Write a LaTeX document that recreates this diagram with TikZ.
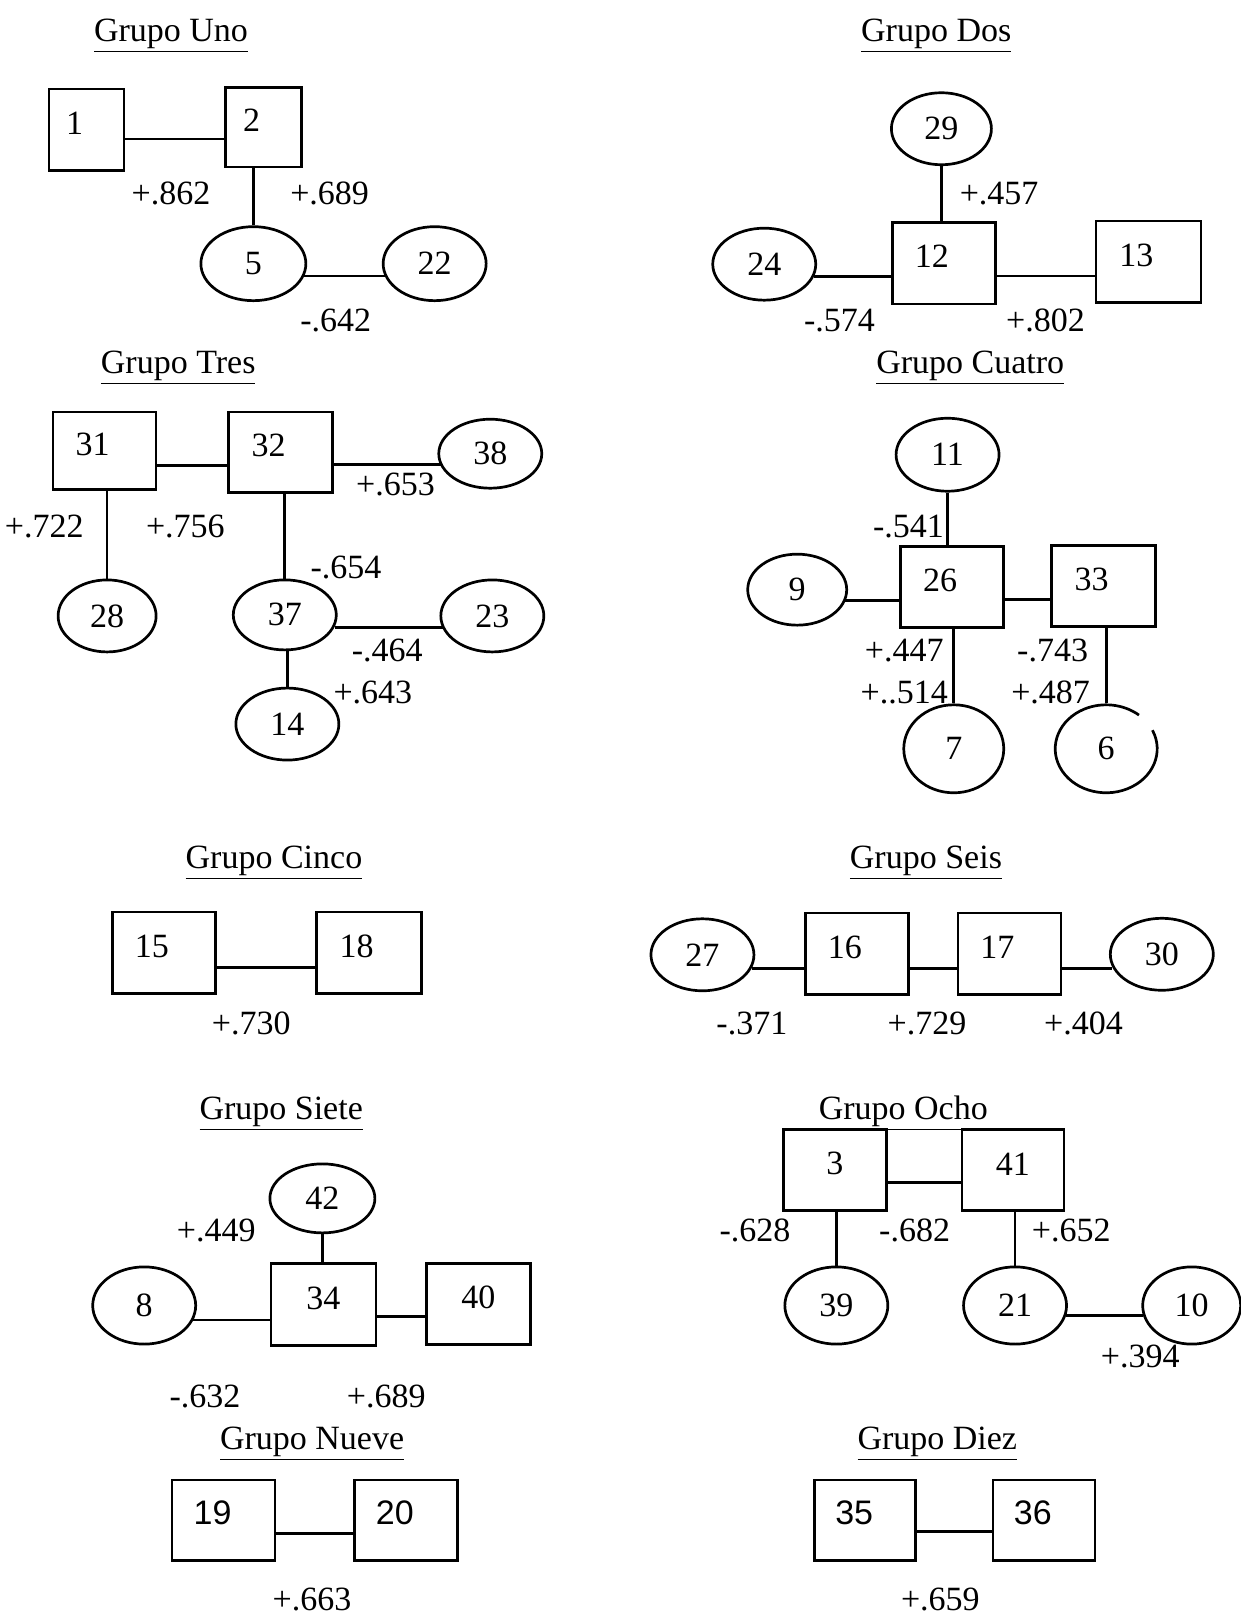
\documentclass[tikz,border=0pt]{standalone}
\usepackage{fontspec}
\setmainfont{Liberation Serif}
\newfontfamily\arialfont{Liberation Sans}
\usetikzlibrary{shapes.geometric, calc}

\begin{document}
\begin{tikzpicture}[x=0.515pt, y=-0.515pt, line width=1.35pt,
    font=\fontsize{17}{20}\selectfont,
    box/.style={draw, minimum width=51.5pt, minimum height=40.7pt,
      label={[xshift=-6pt, yshift=3.3pt]center:#1}},
    cbox/.style={draw, minimum width=51.5pt, minimum height=40.7pt,
      label={[yshift=3.1pt]center:#1}},
    sbox/.style={draw, minimum width=51.5pt, minimum height=40.2pt,
      label={[xshift=-5.5pt, yshift=3.8pt, font=\arialfont\fontsize{17}{20}\selectfont]center:#1}},
    oval/.style={draw, ellipse, inner sep=0pt, minimum width=51.5pt, minimum height=36pt},
    wt/.style={inner sep=0pt},
    title/.style={inner sep=0pt}]
  \useasboundingbox (0,0) rectangle (1204,1568);

  % grupo uno
  \node[title] (t1) at (166,35) {\underline{Grupo Uno}};
  \node[box=1, minimum width=37.6pt] (b1) at (84,126) {};
  \node[box=2, minimum width=38pt, minimum height=39.7pt] (b2) at (256,123.5) {};
  \node[oval, minimum width=52.5pt, minimum height=37pt] (e5) at (246,256) {5};
  \node[oval, minimum height=37pt] (e22) at (422,256) {22};
  \draw ($(b1.east)+(0,9)$) coordinate (p) -- (p -| b2.west);
  \draw (e5.north) -- (e5.north |- b2.south);
  \draw ($(e5.east)+(-3,12)$) coordinate (p) -- ($(p -| e22.west)+(3,0)$);
  \node[wt] (w1) at (166,188) {+.862};
  \node[wt] (w2) at (320,188) {+.689};
  \node[wt] (w3) at (326,311) {-.642};

  % grupo dos
  \node[title] (t2) at (909,35) {\underline{Grupo Dos}};
  \node[oval, minimum width=50pt] (e29) at (914,125) {29};
  \node[box=12] (b12) at (916.5,255.5) {};
  \node[oval] (e24) at (742,256.5) {24};
  \node[box=13, minimum width=52.5pt] (b13) at (1115,254) {};
  \draw (e29.south) -- (e29.south |- b12.north);
  \draw ($(e24.east)+(-3,12)$) coordinate (p) -- (p -| b12.west);
  \draw ($(b12.east)+(0,12.5)$) coordinate (p) -- (p -| b13.west);
  \node[wt] (w4) at (970,188) {+.457};
  \node[wt] (w5) at (815,311) {-.574};
  \node[wt] (w6) at (1015,311) {+.802};

  % grupo tres
  \node[title] (t3) at (173,357) {\underline{Grupo Tres}};
  \node[box=31, minimum height=38.6pt] (b31) at (101.5,437.5) {};
  \node[box=32, minimum width=52pt, minimum height=40.2pt] (b32) at (272.5,439) {};
  \node[oval, minimum height=34.5pt] (e38) at (476,440.5) {38};
  \node[oval, minimum width=49pt] (e28) at (104,598) {28};
  \node[oval, minimum height=35pt] (e37) at (276.5,597) {37};
  \node[oval] (e23) at (478,598) {23};
  \node[oval] (e14) at (279,703) {14};
  \draw ($(b31.east)+(0,14.5)$) coordinate (p) -- (p -| b32.west);
  \draw ($(b32.east)+(0,12)$) coordinate (p) -- ($(p -| e38.west)+(3,0)$);
  \draw (e28.north) -- (e28.north |- b31.south);
  \draw (e37.north) -- (e37.north |- b32.south);
  \draw ($(e37.east)+(-3,12)$) coordinate (p) -- ($(p -| e23.west)+(3,0)$);
  \draw (e14.north) -- (e14.north |- e37.south);
  \node[wt] (w7) at (43,511) {+.722};
  \node[wt] (w8) at (180,511) {+.756};
  \node[wt] (w9) at (384,470) {+.653};
  \node[wt] (w10) at (336,551) {-.654};
  \node[wt] (w11) at (376,632) {-.464};
  \node[wt] (w12) at (362,672) {+.643};

  % grupo cuatro
  \node[title] (t4) at (942,357) {\underline{Grupo Cuatro}};
  \node[oval, minimum height=36.5pt] (e11) at (920,441.5) {11};
  \node[box=26] (b26) at (924.5,570) {};
  \node[oval, minimum width=49.5pt, minimum height=35.5pt] (e9) at (774,572.5) {9};
  \node[box=33, minimum width=52pt] (b33) at (1071.5,569) {};
  \node[oval, minimum width=50pt, minimum height=44pt] (e7) at (926,727) {7};
  \node[ellipse, inner sep=0pt, minimum width=51pt, minimum height=44pt] (e6) at (1074,727) {6};
  \draw ([shift={(-25:49.5 and 42.7)}]e6.center) arc[start angle=-25, end angle=310, x radius=49.5, y radius=42.7];
  \draw (e11.south) -- (e11.south |- b26.north);
  \draw ($(e9.east)+(-2.5,10.5)$) coordinate (p) -- (p -| b26.west);
  \draw ($(b26.east)+(0,12)$) coordinate (p) -- (p -| b33.west);
  \draw (e7.north) -- (e7.north |- b26.south);
  \draw (e6.north) -- (e6.north |- b33.south);
  \node[wt] (w13) at (882,511) {-.541};
  \node[wt] (w14) at (878,632) {+.447};
  \node[wt] (w15) at (878,672) {+..514};
  \node[wt] (w16) at (1022,632) {-.743};
  \node[wt] (w17) at (1020,672) {+.487};

  % grupo cinco
  \node[title] (t5) at (266,838) {\underline{Grupo Cinco}};
  \node[box=15] (b15) at (159,925) {};
  \node[box=18, minimum width=52.5pt] (b18) at (358,925) {};
  \draw ($(b15.east)+(0,14)$) coordinate (p) -- (p -| b18.west);
  \node[wt] (w18) at (244,994) {+.730};

  % grupo seis
  \node[title] (t6) at (899,838) {\underline{Grupo Seis}};
  \node[oval] (e27) at (682,927) {27};
  \node[box=16] (b16) at (832,926) {};
  \node[box=17] (b17) at (980,926) {};
  \node[oval] (e30) at (1128,926.5) {30};
  \draw ($(e27.east)+(-3,13)$) coordinate (p) -- (p -| b16.west);
  \draw ($(b16.east)+(0,14)$) coordinate (p) -- (p -| b17.west);
  \draw ($(b17.east)+(0,14)$) coordinate (p) -- ($(p -| e30.west)+(3,0)$);
  \node[wt] (w19) at (730,994) {-.371};
  \node[wt] (w20) at (900,994) {+.729};
  \node[wt] (w21) at (1052,994) {+.404};

  % grupo siete
  \node[title] (t7) at (273,1081) {\underline{Grupo Siete}};
  \node[oval, minimum width=52.5pt, minimum height=34.5pt] (e42) at (313,1163.5) {42};
  \node[cbox=34, minimum width=52.5pt] (b34) at (314,1266.5) {};
  \node[oval, minimum height=38.6pt] (e8) at (140,1267.5) {8};
  \node[cbox=40, minimum width=52pt] (b40) at (464.5,1266) {};
  \draw (e42.south) -- (e42.south |- b34.north);
  \draw ($(e8.east)+(-3.5,14)$) coordinate (p) -- (p -| b34.west);
  \draw ($(b34.east)+(0,11.5)$) coordinate (p) -- (p -| b40.west);
  \node[wt] (w22) at (210,1195) {+.449};
  \node[wt] (w23) at (199,1356) {-.632};
  \node[wt] (w24) at (375,1356) {+.689};

  % grupo ocho
  \node[title] (t8) at (877,1081) {\underline{Grupo Ocho}};
  \node[cbox=3] (b3) at (810.5,1136) {};
  \node[cbox=41, minimum width=51pt] (b41) at (983.5,1136) {};
  \node[oval, minimum height=38.6pt] (e39) at (812,1267.5) {39};
  \node[oval, minimum height=38.6pt] (e21) at (985.5,1267.5) {21};
  \node[oval, minimum width=49pt, minimum height=38.6pt] (e10) at (1157,1267.5) {10};
  \draw ($(b3.east)+(0,12)$) coordinate (p) -- (p -| b41.west);
  \draw (e39.north) -- (e39.north |- b3.south);
  \draw (e21.north) -- (e21.north |- b41.south);
  \draw ($(e21.east)+(-2,10)$) coordinate (p) -- ($(p -| e10.west)+(2,0)$);
  \node[wt] (w25) at (733,1195) {-.628};
  \node[wt] (w26) at (888,1195) {-.682};
  \node[wt] (w27) at (1040,1195) {+.652};
  \node[wt] (w28) at (1107,1317) {+.394};

  % grupo nueve
  \node[title] (t9) at (303,1402) {\underline{Grupo Nueve}};
  \node[sbox=19] (b19) at (217,1476) {};
  \node[sbox=20] (b20) at (394,1476) {};
  \draw ($(b19.east)+(0,13)$) coordinate (p) -- (p -| b20.west);
  \node[wt] (w29) at (303,1553) {+.663};

  % grupo diez
  \node[title] (t10) at (910,1402) {\underline{Grupo Diez}};
  \node[sbox=35, minimum width=50.5pt] (b35) at (840,1476) {};
  \node[sbox=36, minimum width=51pt] (b36) at (1013.5,1476) {};
  \draw ($(b35.east)+(0,11)$) coordinate (p) -- (p -| b36.west);
  \node[wt] (w30) at (913,1553) {+.659};
\end{tikzpicture}
\end{document}
